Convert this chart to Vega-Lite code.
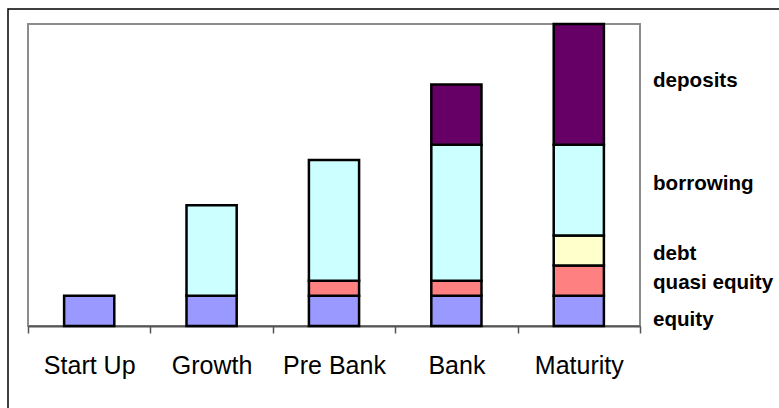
{
  "$schema": "https://vega.github.io/schema/vega-lite/v6.json",
  "width": 612,
  "height": 302,
  "autosize": {"type": "none"},
  "padding": {"left": 28, "top": 24, "right": 139, "bottom": 82},
  "background": "white",
  "config": {
    "view": {"stroke": "#8c8c8c", "strokeWidth": 2},
    "font": "Liberation Sans"
  },
  "layer": [
    {
      "data": {
        "values": [
          {"stage": "Start Up", "type": "equity", "value": 1, "order": 1},
          {"stage": "Growth", "type": "equity", "value": 1, "order": 1},
          {"stage": "Growth", "type": "borrowing", "value": 3, "order": 4},
          {"stage": "Pre Bank", "type": "equity", "value": 1, "order": 1},
          {"stage": "Pre Bank", "type": "quasi equity", "value": 0.5, "order": 2},
          {"stage": "Pre Bank", "type": "borrowing", "value": 4, "order": 4},
          {"stage": "Bank", "type": "equity", "value": 1, "order": 1},
          {"stage": "Bank", "type": "quasi equity", "value": 0.5, "order": 2},
          {"stage": "Bank", "type": "borrowing", "value": 4.5, "order": 4},
          {"stage": "Bank", "type": "deposits", "value": 2, "order": 5},
          {"stage": "Maturity", "type": "equity", "value": 1, "order": 1},
          {"stage": "Maturity", "type": "quasi equity", "value": 1, "order": 2},
          {"stage": "Maturity", "type": "debt", "value": 1, "order": 3},
          {"stage": "Maturity", "type": "borrowing", "value": 3, "order": 4},
          {"stage": "Maturity", "type": "deposits", "value": 4, "order": 5}
        ]
      },
      "mark": {"type": "bar", "width": {"band": 0.41}, "stroke": "#000000", "strokeWidth": 2.5},
      "encoding": {
        "x": {
          "field": "stage",
          "type": "nominal",
          "sort": ["Start Up", "Growth", "Pre Bank", "Bank", "Maturity"],
          "scale": {"paddingInner": 0, "paddingOuter": 0},
          "axis": {
            "title": null,
            "labelAngle": 0,
            "labelFont": "Liberation Sans",
            "labelFontSize": 25,
            "labelColor": "#000000",
            "labelPadding": 20,
            "tickBand": "extent",
            "tickSize": 7,
            "tickColor": "#555555",
            "tickWidth": 1.5,
            "domainColor": "#555555",
            "domainWidth": 2,
            "grid": false
          }
        },
        "y": {
          "field": "value",
          "type": "quantitative",
          "stack": "zero",
          "scale": {"domain": [0, 10], "nice": false},
          "axis": null
        },
        "color": {
          "field": "type",
          "type": "nominal",
          "scale": {
            "domain": ["equity", "quasi equity", "debt", "borrowing", "deposits"],
            "range": ["#9999ff", "#ff8080", "#ffffcc", "#ccffff", "#660066"]
          },
          "legend": null
        },
        "order": {"field": "order", "type": "quantitative", "sort": "ascending"}
      }
    },
    {
      "data": {
        "values": [
          {"label": "deposits", "pos": 7.9},
          {"label": "borrowing", "pos": 4.5},
          {"label": "debt", "pos": 2.18},
          {"label": "quasi equity", "pos": 1.21},
          {"label": "equity", "pos": 0}
        ]
      },
      "mark": {
        "type": "text",
        "align": "left",
        "baseline": "alphabetic",
        "dx": 13,
        "font": "Liberation Sans",
        "fontSize": 20.6,
        "fontWeight": "bold",
        "fill": "#000000"
      },
      "encoding": {
        "x": {"value": "width"},
        "y": {"field": "pos", "type": "quantitative"},
        "text": {"field": "label"},
        "stroke": {
          "field": "pos",
          "type": "quantitative",
          "scale": {"range": ["rgba(255,255,255,0)", "rgba(255,255,255,0)"]},
          "legend": {
            "orient": "none",
            "legendX": -20,
            "legendY": -15,
            "direction": "horizontal",
            "gradientLength": 800,
            "gradientThickness": 420,
            "gradientStrokeColor": "#000000",
            "gradientStrokeWidth": 1.5,
            "title": null,
            "values": [],
            "labelExpr": "''",
            "labelOpacity": 0,
            "padding": 0
          }
        }
      }
    }
  ]
}
